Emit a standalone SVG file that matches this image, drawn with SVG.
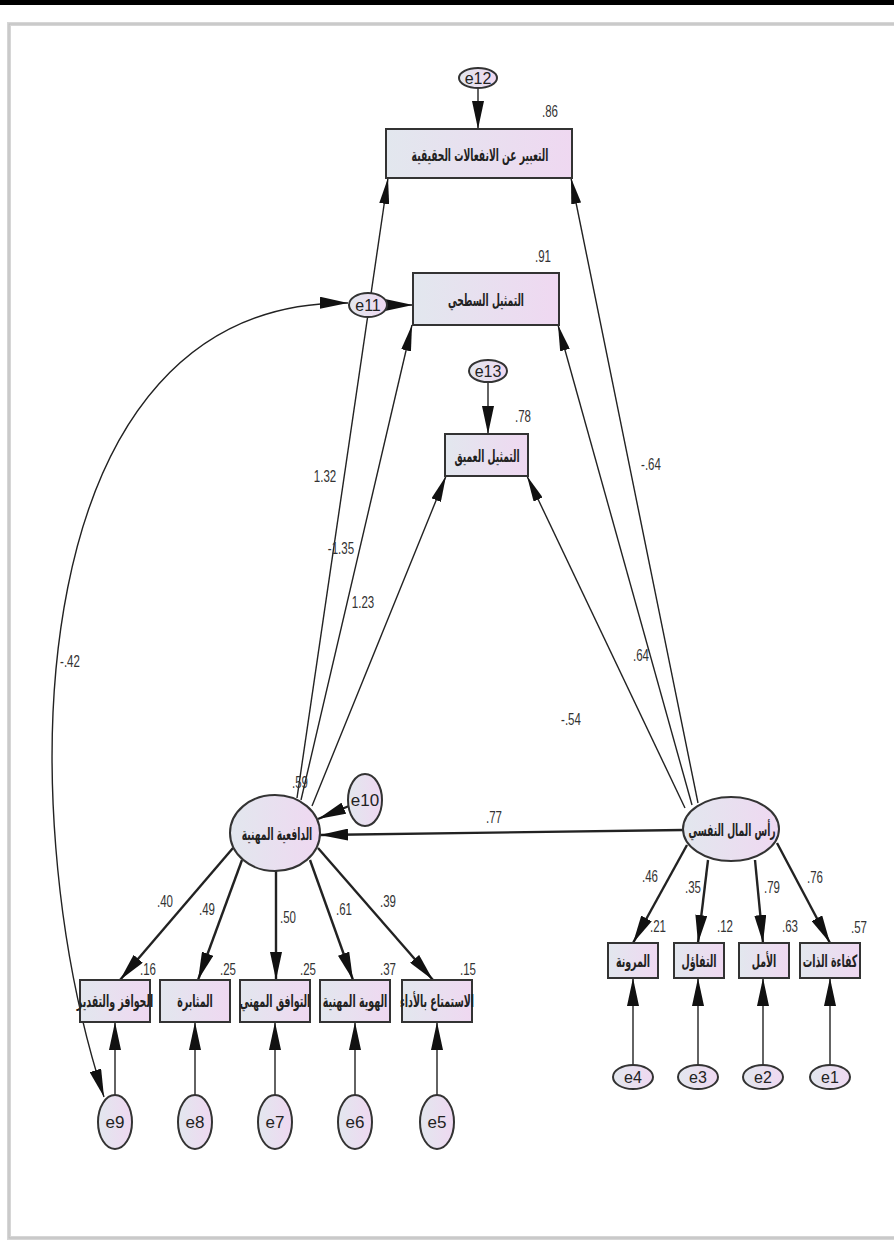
<svg xmlns="http://www.w3.org/2000/svg" width="894" height="1245" viewBox="0 0 894 1245">
  <defs>
    <linearGradient id="fillGrad" x1="0" y1="0" x2="1" y2="0">
      <stop offset="0" stop-color="#e2e7ee"/>
      <stop offset="1" stop-color="#efd8f1"/>
    </linearGradient>
    <marker id="arr" viewBox="0 0 28 12" markerWidth="28" markerHeight="12" refX="28" refY="6" orient="auto-start-reverse" markerUnits="userSpaceOnUse">
      <path d="M0,0 L28,6 L0,12 z" fill="#111"/>
    </marker>
    <marker id="arrS" viewBox="0 0 26 10" markerWidth="26" markerHeight="10" refX="26" refY="5" orient="auto-start-reverse" markerUnits="userSpaceOnUse">
      <path d="M0,0 L26,5 L0,10 z" fill="#111"/>
    </marker>
  </defs>
  <style>
    .box { fill: url(#fillGrad); stroke: #333; stroke-width: 2; }
    .lat { fill: url(#fillGrad); stroke: #333; stroke-width: 2; }
    .err { fill: url(#fillGrad); stroke: #333; stroke-width: 2; }
    .ar { font-family: "DejaVu Sans Condensed", "DejaVu Sans", sans-serif; font-weight: bold; font-size: 17px; fill: #222; text-anchor: middle; }
    .el { font-family: "Liberation Sans", Arial, sans-serif; fill: #222; text-anchor: middle; }
    .num { font-family: "Liberation Sans", Arial, sans-serif; font-size: 16px; fill: #333; text-anchor: middle; }
    .path { fill: none; stroke: #222; stroke-width: 1.4; }
    .thick { fill: none; stroke: #222; stroke-width: 2.4; }
  </style>

  <!-- page frame -->
  <rect x="0" y="0" width="894" height="5" fill="#000"/>
  <rect x="9" y="24" width="900" height="1214" fill="#fff" stroke="#d6d6d6" stroke-width="4"/>
  <rect x="9" y="24" width="900" height="1214" fill="none" stroke="#bdbdbd" stroke-width="1"/>

  <!-- connectors -->
  <g id="connectors">
    <!-- error terms to endogenous boxes -->
    <line class="path" x1="478" y1="88" x2="478" y2="129" marker-end="url(#arr)"/>
    <line class="path" x1="387" y1="305" x2="413" y2="305" marker-end="url(#arr)"/>
    <line class="path" x1="488" y1="382" x2="488" y2="434" marker-end="url(#arr)"/>
    <!-- motivation to emotional labour -->
    <line class="path" x1="297" y1="798" x2="388" y2="178" marker-end="url(#arrS)"/>
    <line class="path" x1="301" y1="800" x2="412" y2="325" marker-end="url(#arrS)"/>
    <line class="path" x1="312" y1="806" x2="446" y2="476" marker-end="url(#arrS)"/>
    <!-- psychological capital to emotional labour -->
    <line class="path" x1="698" y1="803" x2="571" y2="178" marker-end="url(#arrS)"/>
    <line class="path" x1="692" y1="805" x2="558" y2="325" marker-end="url(#arrS)"/>
    <line class="path" x1="685" y1="808" x2="527" y2="476" marker-end="url(#arrS)"/>
    <!-- psychological capital to motivation -->
    <line class="thick" x1="683" y1="830" x2="320" y2="835" marker-end="url(#arr)"/>
    <line class="thick" x1="349" y1="806" x2="318" y2="819" marker-end="url(#arr)"/>
    <!-- covariance e9 / e11 -->
    <path class="path" d="M104,1097 C8,800 22,300 348,303" marker-start="url(#arr)" marker-end="url(#arr)"/>
    <!-- motivation indicators -->
    <line class="thick" x1="233" y1="848" x2="120" y2="980" marker-end="url(#arr)"/>
    <line class="thick" x1="242" y1="860" x2="198" y2="980" marker-end="url(#arr)"/>
    <line class="thick" x1="276" y1="871" x2="276" y2="980" marker-end="url(#arr)"/>
    <line class="thick" x1="310" y1="860" x2="353" y2="980" marker-end="url(#arr)"/>
    <line class="thick" x1="318" y1="848" x2="433" y2="980" marker-end="url(#arr)"/>
    <!-- capital indicators -->
    <line class="thick" x1="687" y1="845" x2="633" y2="943" marker-end="url(#arr)"/>
    <line class="thick" x1="708" y1="860" x2="698" y2="943" marker-end="url(#arr)"/>
    <line class="thick" x1="755" y1="860" x2="763" y2="943" marker-end="url(#arr)"/>
    <line class="thick" x1="777" y1="843" x2="830" y2="943" marker-end="url(#arr)"/>
    <!-- indicator errors -->
    <line class="path" x1="115" y1="1095" x2="115" y2="1022" marker-end="url(#arr)"/>
    <line class="path" x1="195" y1="1095" x2="195" y2="1022" marker-end="url(#arr)"/>
    <line class="path" x1="275" y1="1095" x2="275" y2="1022" marker-end="url(#arr)"/>
    <line class="path" x1="355" y1="1095" x2="355" y2="1022" marker-end="url(#arr)"/>
    <line class="path" x1="437" y1="1095" x2="437" y2="1022" marker-end="url(#arr)"/>
    <line class="path" x1="633" y1="1065" x2="633" y2="978" marker-end="url(#arr)"/>
    <line class="path" x1="698" y1="1065" x2="698" y2="978" marker-end="url(#arr)"/>
    <line class="path" x1="763" y1="1065" x2="763" y2="978" marker-end="url(#arr)"/>
    <line class="path" x1="830" y1="1065" x2="830" y2="978" marker-end="url(#arr)"/>
  </g>

  <!-- path coefficients -->
  <g id="coefficients">
    <text class="num" transform="translate(70,667) scale(0.72,1)">-.42</text>
    <text class="num" transform="translate(325,482) scale(0.72,1)">1.32</text>
    <text class="num" transform="translate(341,554) scale(0.72,1)">-1.35</text>
    <text class="num" transform="translate(363,608) scale(0.72,1)">1.23</text>
    <text class="num" transform="translate(651,470) scale(0.72,1)">-.64</text>
    <text class="num" transform="translate(641,661) scale(0.72,1)">.64</text>
    <text class="num" transform="translate(571,725) scale(0.72,1)">-.54</text>
    <text class="num" transform="translate(494,823) scale(0.72,1)">.77</text>
    <text class="num" transform="translate(300,788) scale(0.72,1)">.59</text>
    <text class="num" transform="translate(550,117) scale(0.72,1)">.86</text>
    <text class="num" transform="translate(543,262) scale(0.72,1)">.91</text>
    <text class="num" transform="translate(523,422) scale(0.72,1)">.78</text>
    <text class="num" transform="translate(165,907) scale(0.72,1)">.40</text>
    <text class="num" transform="translate(207,915) scale(0.72,1)">.49</text>
    <text class="num" transform="translate(288,923) scale(0.72,1)">.50</text>
    <text class="num" transform="translate(344,915) scale(0.72,1)">.61</text>
    <text class="num" transform="translate(388,907) scale(0.72,1)">.39</text>
    <text class="num" transform="translate(148,975) scale(0.72,1)">.16</text>
    <text class="num" transform="translate(228,975) scale(0.72,1)">.25</text>
    <text class="num" transform="translate(308,975) scale(0.72,1)">.25</text>
    <text class="num" transform="translate(388,975) scale(0.72,1)">.37</text>
    <text class="num" transform="translate(468,975) scale(0.72,1)">.15</text>
    <text class="num" transform="translate(650,882) scale(0.72,1)">.46</text>
    <text class="num" transform="translate(693,893) scale(0.72,1)">.35</text>
    <text class="num" transform="translate(772,893) scale(0.72,1)">.79</text>
    <text class="num" transform="translate(815,883) scale(0.72,1)">.76</text>
    <text class="num" transform="translate(658,932) scale(0.72,1)">.21</text>
    <text class="num" transform="translate(725,932) scale(0.72,1)">.12</text>
    <text class="num" transform="translate(790,932) scale(0.72,1)">.63</text>
    <text class="num" transform="translate(859,933) scale(0.72,1)">.57</text>
  </g>

  <!-- emotional labour outcomes -->
  <g id="n_genuine">
    <rect class="box" x="386" y="129" width="186" height="49"/>
    <text class="ar" transform="translate(480,161) scale(0.6,1)">التعبير عن الانفعالات الحقيقية</text>
  </g>
  <g id="n_surface">
    <rect class="box" x="413" y="273" width="146" height="52"/>
    <text class="ar" transform="translate(486,306) scale(0.6,1)">التمثيل السطحي</text>
  </g>
  <g id="n_deep">
    <rect class="box" x="445" y="434" width="83" height="42"/>
    <text class="ar" transform="translate(487,462) scale(0.6,1)">التمثيل العميق</text>
  </g>

  <!-- latent variables -->
  <g id="n_motivation">
    <ellipse class="lat" cx="275" cy="833" rx="45" ry="38"/>
    <text class="ar" transform="translate(277,840) scale(0.6,1)" font-size="16">الدافعية المهنية</text>
  </g>
  <g id="n_capital">
    <ellipse class="lat" cx="731" cy="829" rx="48" ry="32"/>
    <text class="ar" transform="translate(732,836) scale(0.6,1)">رأس المال النفسي</text>
  </g>

  <!-- motivation indicators -->
  <g id="n_incentives">
    <rect class="box" x="80" y="980" width="70" height="42"/>
    <text class="ar" transform="translate(115,1007) scale(0.62,1)" font-size="16">الحوافز والتقدير</text>
  </g>
  <g id="n_persistence">
    <rect class="box" x="160" y="980" width="70" height="42"/>
    <text class="ar" transform="translate(195,1007) scale(0.62,1)" font-size="16">المثابرة</text>
  </g>
  <g id="n_fit">
    <rect class="box" x="240" y="980" width="70" height="42"/>
    <text class="ar" transform="translate(275,1007) scale(0.62,1)" font-size="16">التوافق المهني</text>
  </g>
  <g id="n_identity">
    <rect class="box" x="320" y="980" width="70" height="42"/>
    <text class="ar" transform="translate(355,1007) scale(0.62,1)" font-size="16">الهوية المهنية</text>
  </g>
  <g id="n_enjoyment">
    <rect class="box" x="402" y="980" width="70" height="42"/>
    <text class="ar" transform="translate(437,1007) scale(0.62,1)" font-size="16">الاستمتاع بالأداء</text>
  </g>

  <!-- capital indicators -->
  <g id="n_resilience">
    <rect class="box" x="608" y="943" width="50" height="35"/>
    <text class="ar" transform="translate(633,967) scale(0.62,1)">المرونة</text>
  </g>
  <g id="n_optimism">
    <rect class="box" x="674" y="943" width="50" height="35"/>
    <text class="ar" transform="translate(699,967) scale(0.62,1)">التفاؤل</text>
  </g>
  <g id="n_hope">
    <rect class="box" x="739" y="943" width="50" height="35"/>
    <text class="ar" transform="translate(764,967) scale(0.62,1)">الأمل</text>
  </g>
  <g id="n_efficacy">
    <rect class="box" x="800" y="943" width="60" height="35"/>
    <text class="ar" transform="translate(830,967) scale(0.62,1)">كفاءة الذات</text>
  </g>

  <!-- error terms -->
  <g id="e12"><ellipse class="err" cx="478" cy="78" rx="19" ry="10"/><text class="el" x="478" y="84" font-size="16">e12</text></g>
  <g id="e11"><ellipse class="err" cx="368" cy="305" rx="19" ry="12"/><text class="el" x="368" y="311" font-size="16">e11</text></g>
  <g id="e13"><ellipse class="err" cx="488" cy="371" rx="19" ry="11"/><text class="el" x="488" y="377" font-size="16">e13</text></g>
  <g id="e10"><ellipse class="err" cx="365" cy="800" rx="17" ry="26"/><text class="el" x="365" y="806" font-size="17">e10</text></g>
  <g id="e9"><ellipse class="err" cx="115" cy="1122" rx="17" ry="27"/><text class="el" x="115" y="1128" font-size="17">e9</text></g>
  <g id="e8"><ellipse class="err" cx="195" cy="1122" rx="17" ry="27"/><text class="el" x="195" y="1128" font-size="17">e8</text></g>
  <g id="e7"><ellipse class="err" cx="275" cy="1122" rx="17" ry="27"/><text class="el" x="275" y="1128" font-size="17">e7</text></g>
  <g id="e6"><ellipse class="err" cx="355" cy="1122" rx="17" ry="27"/><text class="el" x="355" y="1128" font-size="17">e6</text></g>
  <g id="e5"><ellipse class="err" cx="437" cy="1122" rx="17" ry="27"/><text class="el" x="437" y="1128" font-size="17">e5</text></g>
  <g id="e4"><ellipse class="err" cx="633" cy="1077" rx="20" ry="12"/><text class="el" x="633" y="1083" font-size="16">e4</text></g>
  <g id="e3"><ellipse class="err" cx="698" cy="1077" rx="20" ry="12"/><text class="el" x="698" y="1083" font-size="16">e3</text></g>
  <g id="e2"><ellipse class="err" cx="763" cy="1077" rx="20" ry="12"/><text class="el" x="763" y="1083" font-size="16">e2</text></g>
  <g id="e1"><ellipse class="err" cx="830" cy="1077" rx="20" ry="12"/><text class="el" x="830" y="1083" font-size="16">e1</text></g>
</svg>
